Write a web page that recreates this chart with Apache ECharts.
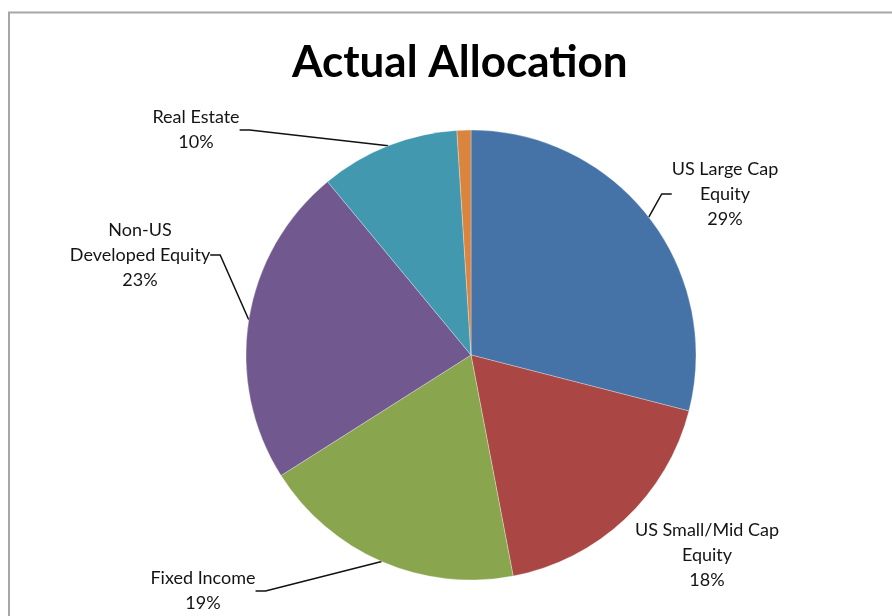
<!DOCTYPE html>
<html>
<head>
<meta charset="utf-8">
<script src="https://cdn.jsdelivr.net/npm/echarts@6/dist/echarts.min.js"></script>
<style>
  html, body { margin: 0; padding: 0; background: #fff; }
  #chart { width: 892px; height: 616px; }
</style>
</head>
<body>
<div id="chart"></div>
<script>
// Portfolio allocation, in percent, clockwise from 12 o'clock
const categories = ['US Large Cap\nEquity', 'US Small/Mid Cap\nEquity', 'Fixed Income', 'Non-US\nDeveloped Equity', 'Real Estate', 'Cash'];
const shares = [29, 18, 19, 23, 10, 1];
const sliceColors = ['#4572A7', '#AA4643', '#89A54E', '#71588F', '#4198AF', '#DB843D'];

// Where each callout sits (label centre), and whether it has a leader line
const labelSpots = [
  { x: 725, y: 194, line: true },
  { x: 707, y: 555, line: false },
  { x: 203, y: 591, line: true },
  { x: 140, y: 255, line: true },
  { x: 196, y: 130, line: true },
  null
];

const chart = echarts.init(document.getElementById('chart'));

const pieData = categories.map((name, i) => ({
  name: name,
  value: shares[i],
  itemStyle: { color: sliceColors[i] },
  label: { show: labelSpots[i] !== null },
  labelLine: { show: !!(labelSpots[i] && labelSpots[i].line) }
}));

chart.setOption({
  backgroundColor: '#ffffff',
  animation: false,
  title: {
    text: 'Actual Allocation',
    left: 287,
    top: 36,
    textStyle: { fontFamily: 'Lato', fontWeight: 'bold', fontSize: 44, color: '#000' }
  },
  graphic: [{
    type: 'rect',
    shape: { x: 9, y: 12.5, width: 1000, height: 800 },
    style: { fill: 'none', stroke: '#a6a6a6', lineWidth: 2 },
    silent: true
  }],
  series: [{
    type: 'pie',
    center: [471, 355],
    radius: 225,
    startAngle: 90,
    clockwise: true,
    data: pieData,
    itemStyle: { borderColor: 'rgba(255,255,255,0.6)', borderWidth: 0.5 },
    label: {
      formatter: p => p.name + '\n' + p.value + '%',
      fontFamily: 'Lato',
      fontSize: 18,
      lineHeight: 25,
      color: '#141414',
      align: 'center'
    },
    labelLine: {
      lineStyle: { color: '#111', width: 1.5 },
      length: 10,
      length2: 10
    },
    labelLayout: function (params) {
      const spot = labelSpots[params.dataIndex];
      if (!spot) return {};
      return { x: spot.x, y: spot.y, align: 'center', verticalAlign: 'middle' };
    }
  }]
});
</script>
</body>
</html>
